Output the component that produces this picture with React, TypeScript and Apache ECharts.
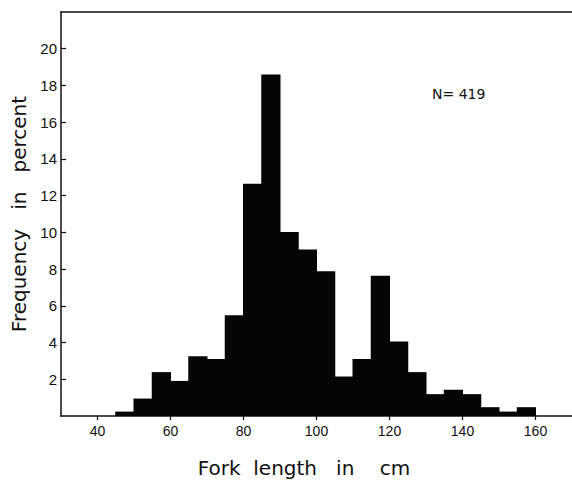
import React, { useEffect, useRef } from "react";
import * as echarts from "echarts";

const binStarts = [45, 50, 55, 60, 65, 70, 75, 80, 85, 90, 95, 100, 105, 110, 115, 120, 125, 130, 135, 140, 145, 150, 155];
const frequencies = [0.24, 0.95, 2.39, 1.91, 3.25, 3.1, 5.49, 12.65, 18.6, 10.02, 9.07, 7.88, 2.15, 3.1, 7.64, 4.06, 2.39, 1.19, 1.43, 1.19, 0.48, 0.24, 0.48];
const binWidth = 5;
const xTickValues = [40, 60, 80, 100, 120, 140, 160];
const yTickValues = [2, 4, 6, 8, 10, 12, 14, 16, 18, 20];
const xTitle = "Fork  length   in    cm";
const yTitle = "Frequency   in   percent";
const sampleLabel = "N= 419";

const FONT = "DejaVu Sans";
const TICK_FONT = "Liberation Sans";
const INK = "#111";
const BAR = "#050505";

export default function App() {
  const ref = useRef<HTMLDivElement>(null);
  useEffect(() => {
    if (!ref.current) return;
    const chart = echarts.init(ref.current, undefined, { renderer: "svg" });
    const data = binStarts.map((s, i) => [s, s + binWidth, frequencies[i]]);
    chart.setOption({
      animation: false,
      backgroundColor: "#fff",
      grid: {
        left: 61,
        top: 12,
        width: 518,
        height: 404,
        show: false,
      },
      xAxis: [
        {
          type: "value",
          min: 30,
          max: 170,
          splitLine: { show: false },
          axisLine: { show: true, lineStyle: { color: INK, width: 1.5 } },
          axisTick: { show: true, customValues: xTickValues, length: 4, inside: false, lineStyle: { color: INK, width: 1.2 } },
          axisLabel: { customValues: xTickValues, color: INK, fontFamily: TICK_FONT, fontSize: 14, margin: 8 },
        },
        {
          type: "value",
          position: "top",
          min: 30,
          max: 170,
          splitLine: { show: false },
          axisLine: { show: true, lineStyle: { color: INK, width: 1.5 } },
          axisTick: { show: false },
          axisLabel: { show: false },
        },
      ],
      yAxis: {
        type: "value",
        min: 0,
        max: 22,
        splitLine: { show: false },
        axisLine: { show: true, lineStyle: { color: INK, width: 1.5 } },
        axisTick: { show: true, customValues: yTickValues, length: 5, inside: true, lineStyle: { color: INK, width: 1.2 } },
        axisLabel: { customValues: yTickValues, color: INK, fontFamily: TICK_FONT, fontSize: 15, margin: 4 },
        name: yTitle,
        nameLocation: "middle",
        nameGap: 32,
        nameTextStyle: { color: INK, fontFamily: FONT, fontSize: 20 },
      },
      graphic: [
        {
          type: "text",
          left: 432,
          top: 87,
          style: { text: sampleLabel, fill: INK, font: `14px "${FONT}"` },
        },
        {
          type: "text",
          x: 304,
          y: 468,
          style: { text: xTitle, fill: INK, font: `20px "${FONT}"`, textAlign: "center", textVerticalAlign: "middle" },
        },
      ],
      series: [
        {
          type: "custom",
          xAxisIndex: 0,
          data,
          encode: { x: [0, 1], y: 2 },
          renderItem: (params: any, api: any) => {
            const p0 = api.coord([api.value(0), api.value(2)]);
            const p1 = api.coord([api.value(1), 0]);
            return {
              type: "rect",
              shape: { x: p0[0] - 0.5, y: p0[1], width: p1[0] - p0[0] + 1, height: p1[1] - p0[1] },
              style: { fill: BAR },
            };
          },
        },
      ],
    });
    return () => chart.dispose();
  }, []);
  return (
    <div
      ref={ref}
      style={{ position: "absolute", left: 0, top: 0, width: 572, height: 481 }}
    />
  );
}
